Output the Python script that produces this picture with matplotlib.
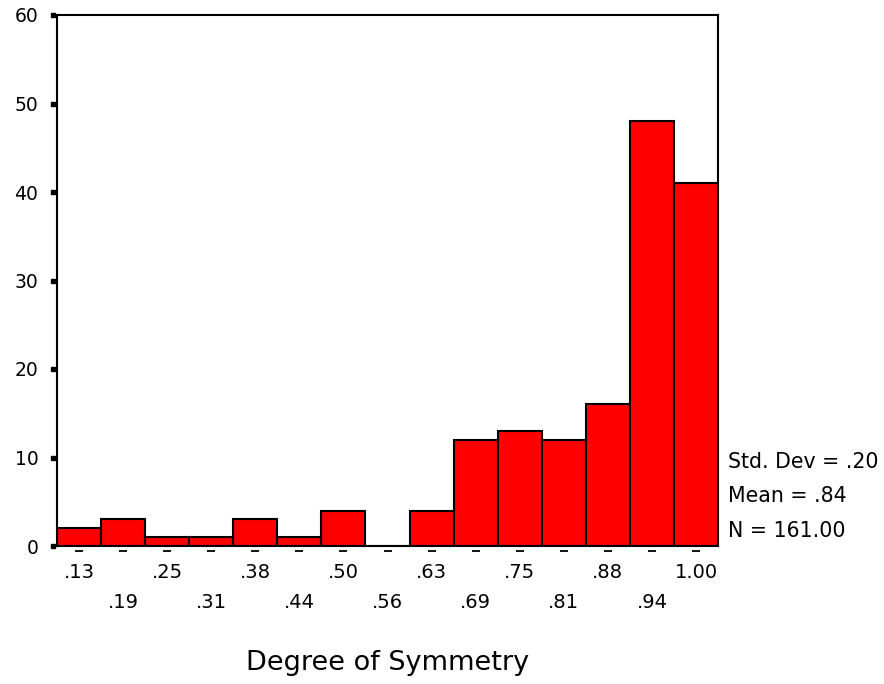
import matplotlib
matplotlib.use("Agg")
import matplotlib.pyplot as plt
import numpy as np

bin_labels = [".13", ".19", ".25", ".31", ".38", ".44", ".50", ".56",
              ".63", ".69", ".75", ".81", ".88", ".94", "1.00"]
counts = [2, 3, 1, 1, 3, 1, 4, 0, 4, 12, 13, 12, 16, 48, 41]
y_ticks = [0, 10, 20, 30, 40, 50, 60]
stats_lines = ["Std. Dev = .20", "Mean = .84", "N = 161.00"]
x_title = "Degree of Symmetry"

plt.rcParams['font.family'] = ['DejaVu Sans']

W, H = 884, 684
fig = plt.figure(figsize=(W / 100, H / 100), dpi=100)
fig.patch.set_facecolor('white')
L, R, T, B = 57, 718, 15, 546
ax = fig.add_axes([L / W, 1 - B / H, (R - L) / W, (B - T) / H])

pos = np.arange(len(counts))
ax.bar(pos, counts, width=1.0, color='#FF0000', edgecolor='black',
       linewidth=1.5, zorder=2)
ax.set_xlim(-0.5, len(counts) - 0.5)
ax.set_ylim(0, 60)

for s in ax.spines.values():
    s.set_linewidth(1.5)
    s.set_color('black')

# y ticks
ax.set_yticks(y_ticks)
ax.set_yticklabels([str(v) for v in y_ticks], fontsize=13.5)
ax.tick_params(axis='y', length=0, pad=13.5)
ax.plot(np.full(len(y_ticks), -0.0068), y_ticks, linestyle='none', marker='s',
        markersize=3.2, color='black', transform=ax.get_yaxis_transform(),
        clip_on=False)

# x ticks: alternating rows
major_pos = pos[::2]
minor_pos = pos[1::2]
ax.set_xticks(major_pos)
ax.set_xticklabels([bin_labels[i] for i in major_pos], fontsize=14)
ax.set_xticks(minor_pos, minor=True)
ax.set_xticklabels([bin_labels[i] for i in minor_pos], fontsize=14, minor=True)
ax.tick_params(axis='x', which='major', length=0, pad=12)
ax.tick_params(axis='x', which='minor', length=0, pad=33.5)
ax.plot(pos, np.full(len(pos), -0.0085), linestyle='none', marker='_',
        markersize=6, markeredgewidth=1.3, color='black',
        transform=ax.get_xaxis_transform(), clip_on=False)

# stats text
for i, line in enumerate(stats_lines):
    yc = 462 + i * 34.5
    fig.text(728 / W, 1 - yc / H, line, fontsize=14.8, va='center', ha='left')

fig.text((L + R) / 2 / W, 1 - 670 / H, x_title, fontsize=19.5,
         ha='center', va='baseline')

fig.savefig('out.png', dpi=100, facecolor='white')
